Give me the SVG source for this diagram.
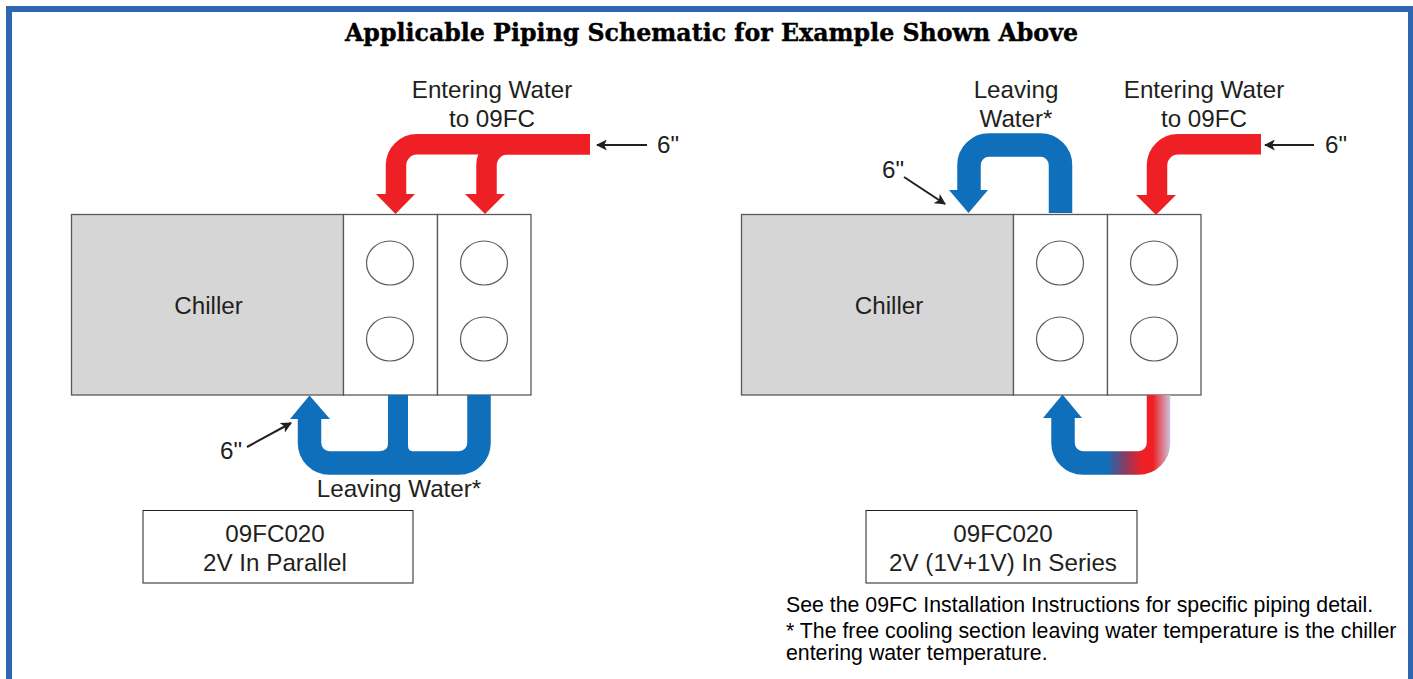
<svg xmlns="http://www.w3.org/2000/svg" width="1413" height="679" viewBox="0 0 1413 679">
<style>
text{font-family:"Liberation Sans",Arial,sans-serif;font-size:24.200px;fill:#231f20;text-anchor:middle}
.note{font-size:21.300px;text-anchor:start;fill:#000}
.title{font-family:"DejaVu Serif","Liberation Serif",serif;font-size:25px;font-weight:bold;fill:#000;stroke:#000;stroke-width:0.4}
.chiller{fill:#d6d6d6;stroke:#58595b;stroke-width:1.3}
.cell{fill:#fff;stroke:#58595b;stroke-width:1.3}
.port{fill:#fff;stroke:#58595b;stroke-width:1.2}
.box{fill:#fff;stroke:#231f20;stroke-width:1}
.red{fill:none;stroke:#ef2025;stroke-width:20.5}
.blue{fill:none;stroke:#106fba;stroke-width:23.5}
.redh{fill:#ef2025}.blueh{fill:#106fba}
.lead{fill:none;stroke:#231f20;stroke-width:2}
</style>
<defs>
<linearGradient id="mix" gradientUnits="userSpaceOnUse" x1="1051" y1="0" x2="1171" y2="0">
<stop offset="0" stop-color="#106fba"/>
<stop offset="0.46" stop-color="#106fba"/>
<stop offset="0.62" stop-color="#8a3a62"/>
<stop offset="0.76" stop-color="#ef2025"/>
<stop offset="0.85" stop-color="#ef2025"/>
<stop offset="1" stop-color="#c8cce6"/>
</linearGradient>
<marker id="tip" viewBox="0 0 10 10" refX="9" refY="5" markerWidth="5.5" markerHeight="5.5" orient="auto"><path d="M0 0L10 5L0 10L2.5 5Z" fill="#231f20"/></marker>
</defs>
<path d="M6 6H1413V12H12V679H6Z" fill="#2f66b0"/>
<rect x="1408" y="6" width="5" height="673" fill="#2f66b0"/>
<text class="title" x="711.500" y="41" textLength="733" lengthAdjust="spacingAndGlyphs">Applicable Piping Schematic for Example Shown Above</text>

<g id="unit-left">
<rect class="chiller" x="71.500" y="214.500" width="272" height="180.500"/>
<rect class="cell" x="343.500" y="214.500" width="94" height="180.500"/>
<rect class="cell" x="437.500" y="214.500" width="93.500" height="180.500"/>
<ellipse class="port" cx="390" cy="263" rx="23.500" ry="22"/><ellipse class="port" cx="484" cy="263" rx="23.500" ry="22"/>
<ellipse class="port" cx="390" cy="339" rx="23.500" ry="22"/><ellipse class="port" cx="484" cy="339" rx="23.500" ry="22"/>
<text x="208.500" y="314">Chiller</text>
</g>
<g id="unit-right">
<rect class="chiller" x="741.500" y="214.500" width="272" height="180.500"/>
<rect class="cell" x="1013.500" y="214.500" width="94" height="180.500"/>
<rect class="cell" x="1107.500" y="214.500" width="93.500" height="180.500"/>
<ellipse class="port" cx="1060" cy="263" rx="23.500" ry="22"/><ellipse class="port" cx="1154" cy="263" rx="23.500" ry="22"/>
<ellipse class="port" cx="1060" cy="339" rx="23.500" ry="22"/><ellipse class="port" cx="1154" cy="339" rx="23.500" ry="22"/>
<text x="889" y="314">Chiller</text>
</g>
<g id="label-left-config">
<rect class="box" x="143" y="510.500" width="270" height="72.500"/>
<text x="275" y="542">09FC020</text><text x="275" y="571">2V In Parallel</text>
</g>
<g id="label-right-config">
<rect class="box" x="866" y="510.500" width="271" height="72.500"/>
<text x="1003" y="542">09FC020</text><text x="1003" y="571">2V (1V+1V) In Series</text>
</g>

<g id="connectors">
<path class="red" d="M590 144.300H417A21 21 0 0 0 396 165.300V197"/>
<path class="red" d="M590 144.300H507.500A21 21 0 0 0 486.500 165.300V197"/>
<path class="redh" d="M376 194H415L395.500 214ZM465 194H505L485 214Z"/>
<path class="blue" d="M479 395V443A20 20 0 0 1 459 463H329.500A20 20 0 0 1 309.500 443V416"/>
<path class="blueh" d="M388 395V443Q388 451 380 451V454H412V451Q408 451 408 445V395Z"/>
<path class="blueh" d="M290 419L309.500 395.500L330 419Z"/>
<path class="blue" d="M1060.500 213V165A20 20 0 0 0 1040.500 145H989A20 20 0 0 0 969 165V192"/>
<path class="blueh" d="M949 190H988L968.500 213Z"/>
<path class="red" d="M1261 144.300H1178A21 21 0 0 0 1157 165.300V197"/>
<path class="redh" d="M1136 195H1176L1156 215Z"/>
<path fill="none" stroke="url(#mix)" stroke-width="23.500" d="M1158.500 395V443A20 20 0 0 1 1138.500 463H1083A20 20 0 0 1 1063 443V416"/>
<path class="blueh" d="M1043 418L1062.500 394.500L1082 418Z"/>
<path class="lead" marker-end="url(#tip)" d="M647 145H597"/>
<path class="lead" marker-end="url(#tip)" d="M1314 145H1265"/>
<path class="lead" marker-end="url(#tip)" d="M247 447L291 423"/>
<path class="lead" marker-end="url(#tip)" d="M904 177L945 204"/>
</g>

<g id="labels">
<text x="492" y="98">Entering Water</text><text x="492" y="127">to 09FC</text>
<text x="668" y="153">6"</text>
<text x="231" y="459">6"</text>
<text x="399" y="497">Leaving Water*</text>
<text x="1016" y="98">Leaving</text><text x="1016" y="127">Water*</text>
<text x="1204" y="98">Entering Water</text><text x="1204" y="127">to 09FC</text>
<text x="1336" y="153">6"</text>
<text x="893" y="178">6"</text>
<text class="note" x="786" y="612">See the 09FC Installation Instructions for specific piping detail.</text>
<text class="note" x="786" y="638">* The free cooling section leaving water temperature is the chiller</text>
<text class="note" x="786" y="660">entering water temperature.</text>
</g>
</svg>
